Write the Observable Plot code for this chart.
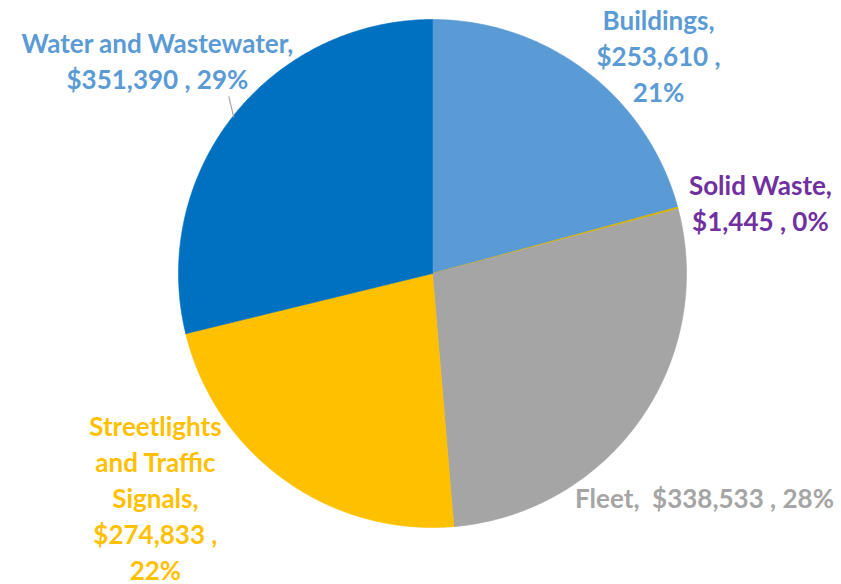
<!DOCTYPE html>
<html><head><meta charset="utf-8">
<script src="https://cdn.jsdelivr.net/npm/d3@7"></script>
<script src="https://cdn.jsdelivr.net/npm/@observablehq/plot@0.6"></script>
<style>body{margin:0;background:#fff;}</style>
</head><body><div id="chart"></div>
<script>
// ---- data ----
const categories = ["Buildings", "Solid Waste", "Fleet", "Streetlights and Traffic Signals", "Water and Wastewater"];
const values = [253610, 1445, 338533, 274833, 351390];
const percents = ["21%", "0%", "28%", "22%", "29%"];
const labelLines = [
  "Buildings,\n$253,610 ,\n21%",
  "Solid Waste,\n$1,445 , 0%",
  "Fleet,  $338,533 , 28%",
  "Streetlights\nand Traffic\nSignals,\n$274,833 ,\n22%",
  "Water and Wastewater,\n$351,390 , 29%"
];

// ---- styles / layout ----
const sliceColors = ["#5B9BD5", "#D9B300", "#A5A5A5", "#FFC000", "#0070C0"];
const labelColors = ["#5B9BD5", "#7030A0", "#A5A5A5", "#FFC000", "#5B9BD5"];
// label anchor positions in pie units (radius = 1)
const labelPos = [
  [0.89, 0.862], [1.291, 0.282], [1.071, -0.878], [-1.091, -0.876], [-1.083, 0.841]
];

const total = d3.sum(values);
const pts = [];
const mids = [];
let acc = 0;
categories.forEach((c, i) => {
  const a0 = acc / total * 2 * Math.PI;
  acc += values[i];
  const a1 = acc / total * 2 * Math.PI;
  mids.push((a0 + a1) / 2);
  const n = Math.max(2, Math.ceil((a1 - a0) / (Math.PI / 360)));
  pts.push({category: c, x: 0, y: 0});
  for (let k = 0; k <= n; k++) {
    const a = a0 + (a1 - a0) * k / n;
    pts.push({category: c, x: Math.sin(a), y: Math.cos(a)});
  }
  pts.push({category: c, x: 0, y: 0});
});

const labels = categories.map((c, i) => ({category: c, text: labelLines[i], x: labelPos[i][0], y: labelPos[i][1], color: labelColors[i]}));

// leader line for Water and Wastewater
const wi = 4;
const leader = [{x1: Math.sin(mids[wi] + 0.05) * 1.063, y1: Math.cos(mids[wi] + 0.05) * 1.063, x2: Math.sin(mids[wi]) * 0.995, y2: Math.cos(mids[wi]) * 0.995}];

const chart = Plot.plot({
  width: 841, height: 584,
  marginLeft: 178, marginRight: 155, marginTop: 19, marginBottom: 57,
  x: {domain: [-1, 1], axis: null},
  y: {domain: [-1, 1], axis: null},
  color: {domain: categories, range: sliceColors},
  style: {fontFamily: "Lato, 'Open Sans', sans-serif", background: "#fff"},
  marks: [
    Plot.line(pts, {x: "x", y: "y", z: "category", fill: "category", stroke: "category", strokeWidth: 0.6, curve: "linear"}),
    Plot.link(leader, {x1: "x1", y1: "y1", x2: "x2", y2: "y2", stroke: "#A5A5A5", strokeWidth: 1.2}),
    ...labels.map(l => Plot.text([l], {x: "x", y: "y", text: "text", fill: l.color, fontSize: 26, fontWeight: "bold", lineHeight: 1.385, textAnchor: "middle"}))
  ]
});
document.getElementById("chart").appendChild(chart);
</script>
</body></html>
